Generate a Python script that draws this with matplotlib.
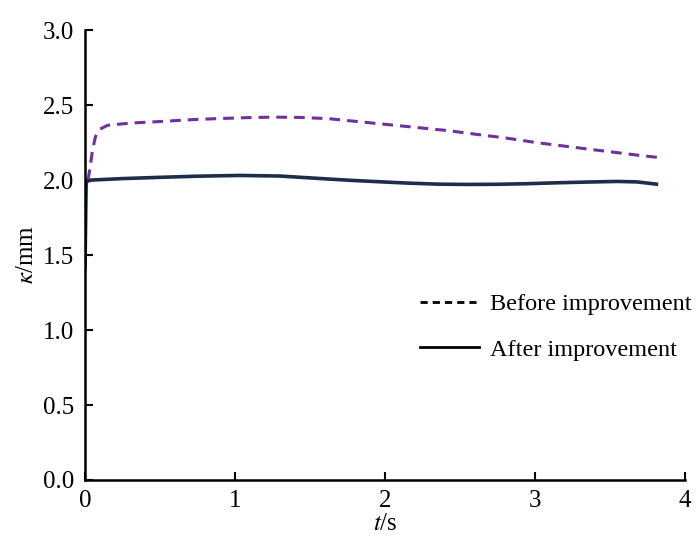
import numpy as np
import matplotlib.pyplot as plt

plt.rcParams['font.family'] = ['Liberation Serif', 'DejaVu Serif']
plt.rcParams['mathtext.fontset'] = 'stix'

# before improvement (dashed)
t_antes = [0.02, 0.035, 0.05, 0.07, 0.1, 0.15, 0.3, 0.49, 0.75, 1.03, 1.25, 1.43, 1.62, 1.82, 2.02,
           2.22, 2.42, 2.61, 2.81, 3.01, 3.21, 3.41, 3.55, 3.67, 3.83]
k_antes = [2.0, 2.09, 2.2, 2.29, 2.34, 2.365, 2.38, 2.39, 2.405, 2.415, 2.42, 2.418, 2.41, 2.39, 2.37,
           2.35, 2.33, 2.305, 2.28, 2.25, 2.225, 2.2, 2.183, 2.168, 2.15]

# after improvement (solid)
t_despues = [0.0, 0.008, 0.04, 0.25, 0.49, 0.75, 1.03, 1.3, 1.56, 1.76, 1.96, 2.15, 2.35, 2.55,
             2.75, 2.95, 3.15, 3.35, 3.55, 3.68, 3.81]
k_despues = [1.41, 1.99, 2.0, 2.01, 2.018, 2.026, 2.031, 2.027, 2.011, 1.999, 1.989, 1.98, 1.973, 1.971,
             1.972, 1.976, 1.982, 1.987, 1.991, 1.988, 1.973]

fig = plt.figure(figsize=(7, 5.42), dpi=100)
ax = fig.add_axes([0.1214, 0.1144, 0.857, 0.830])

ax.plot(t_antes, k_antes, color='#7030A0', lw=2.2, dashes=(3.5, 2.3))
ax.plot(t_despues, k_despues, color='#1F2D4D', lw=2.6)

# legend handles drawn black like the original
l1, = ax.plot([], [], color='black', lw=2, dashes=(2.6, 1.8), label='Before improvement')
l2, = ax.plot([], [], color='black', lw=2, label='After improvement')
ax.legend(handles=[l1, l2], frameon=False, fontsize=17.5, handlelength=2.45,
          labelspacing=0.95, handletextpad=0.45, loc='center left',
          bbox_to_anchor=(0.558, 0.34), borderpad=0, borderaxespad=0)

ax.set_xlim(0, 4)
ax.set_ylim(0, 3.0)
ax.set_xticks([0, 1, 2, 3, 4])
ax.set_yticks(np.arange(0, 3.01, 0.5))
ax.set_yticklabels(['0.0', '0.5', '1.0', '1.5', '2.0', '2.5', '3.0'])
ax.tick_params(direction='in', labelsize=18, length=6, width=1.5)
ax.tick_params(axis='y', pad=8)
ax.tick_params(axis='x', pad=7)
ax.spines['top'].set_visible(False)
ax.spines['right'].set_visible(False)
ax.spines['left'].set_linewidth(1.8)
ax.spines['bottom'].set_linewidth(1.8)

ax.set_xlabel(r'$t$/s', fontsize=18, labelpad=1)
ax.set_ylabel(r'$\kappa$/mm', fontsize=18, labelpad=3)

fig.savefig('out.png', dpi=100)
